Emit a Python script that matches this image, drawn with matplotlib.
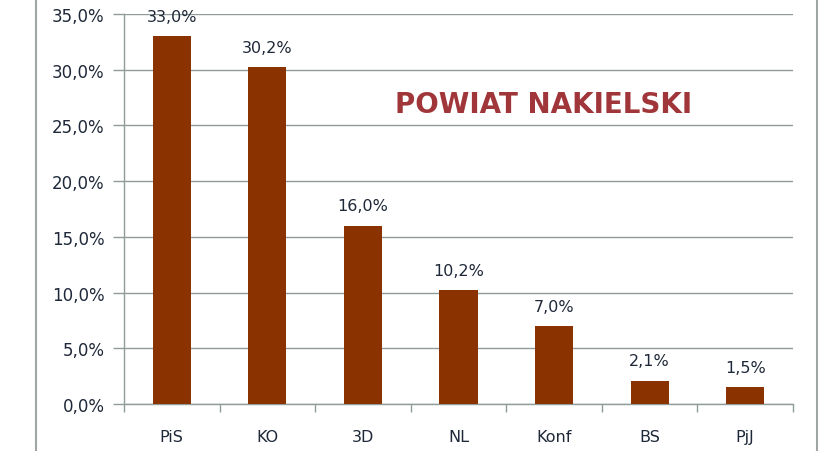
import matplotlib.pyplot as plt
from matplotlib.lines import Line2D
from matplotlib.ticker import FuncFormatter, MultipleLocator, FixedLocator

# Data
parties = ["PiS", "KO", "3D", "NL", "Konf", "BS", "PjJ"]
shares = [33.0, 30.2, 16.0, 10.2, 7.0, 2.1, 1.5]

bar_color = "#8b3300"
grid_color = "#8f9c9a"
text_color = "#1e2838"


def pct(v, pos=None):
  return "{:.1f}%".format(v).replace(".", ",")


fig = plt.figure(figsize=(8.4, 4.52), dpi=100)
ax = fig.add_axes([124/840, 1 - 405/452, 669/840, 390/452])

x = range(len(parties))
ax.bar(x, shares, width=0.4, color=bar_color, zorder=3)

for xi, v in zip(x, shares):
  ax.annotate(pct(v), (xi, v), xytext=(0, 9), textcoords="offset points",
              ha="center", va="bottom", fontsize=11.5, color=text_color,
              family="DejaVu Sans", zorder=4)

ax.set_xlim(-0.5, len(parties) - 0.5)
ax.set_ylim(0, 35)
ax.yaxis.set_major_locator(MultipleLocator(5))
ax.yaxis.set_major_formatter(FuncFormatter(pct))
ax.set_xticks(list(x))
ax.set_xticklabels(parties)
ax.xaxis.set_minor_locator(FixedLocator([i - 0.5 for i in range(len(parties) + 1)]))

ax.grid(axis="y", color=grid_color, linewidth=1.0, zorder=0)
for s in ["top", "right"]:
  ax.spines[s].set_visible(False)
for s in ["left", "bottom"]:
  ax.spines[s].set_color(grid_color)
  ax.spines[s].set_linewidth(1.0)

ax.tick_params(axis="y", length=8, width=1.0, color=grid_color,
               labelsize=12, labelcolor=text_color, pad=6)
ax.tick_params(axis="x", which="major", length=0, labelsize=11.5,
               labelcolor=text_color, pad=18)
ax.tick_params(axis="x", which="minor", length=6, width=1.0, color=grid_color)

ax.text(0.627, 0.77, "POWIAT NAKIELSKI", transform=ax.transAxes,
        ha="center", va="center", fontsize=20, fontweight="bold",
        color="#a0363a", family="DejaVu Sans")

# outer frame of the chart area
for fx in [36/840, 817/840]:
  fig.add_artist(Line2D([fx, fx], [0, 1], transform=fig.transFigure,
                        color="#a0a6a6", linewidth=1.5))

fig.savefig("out.png", dpi=100)
